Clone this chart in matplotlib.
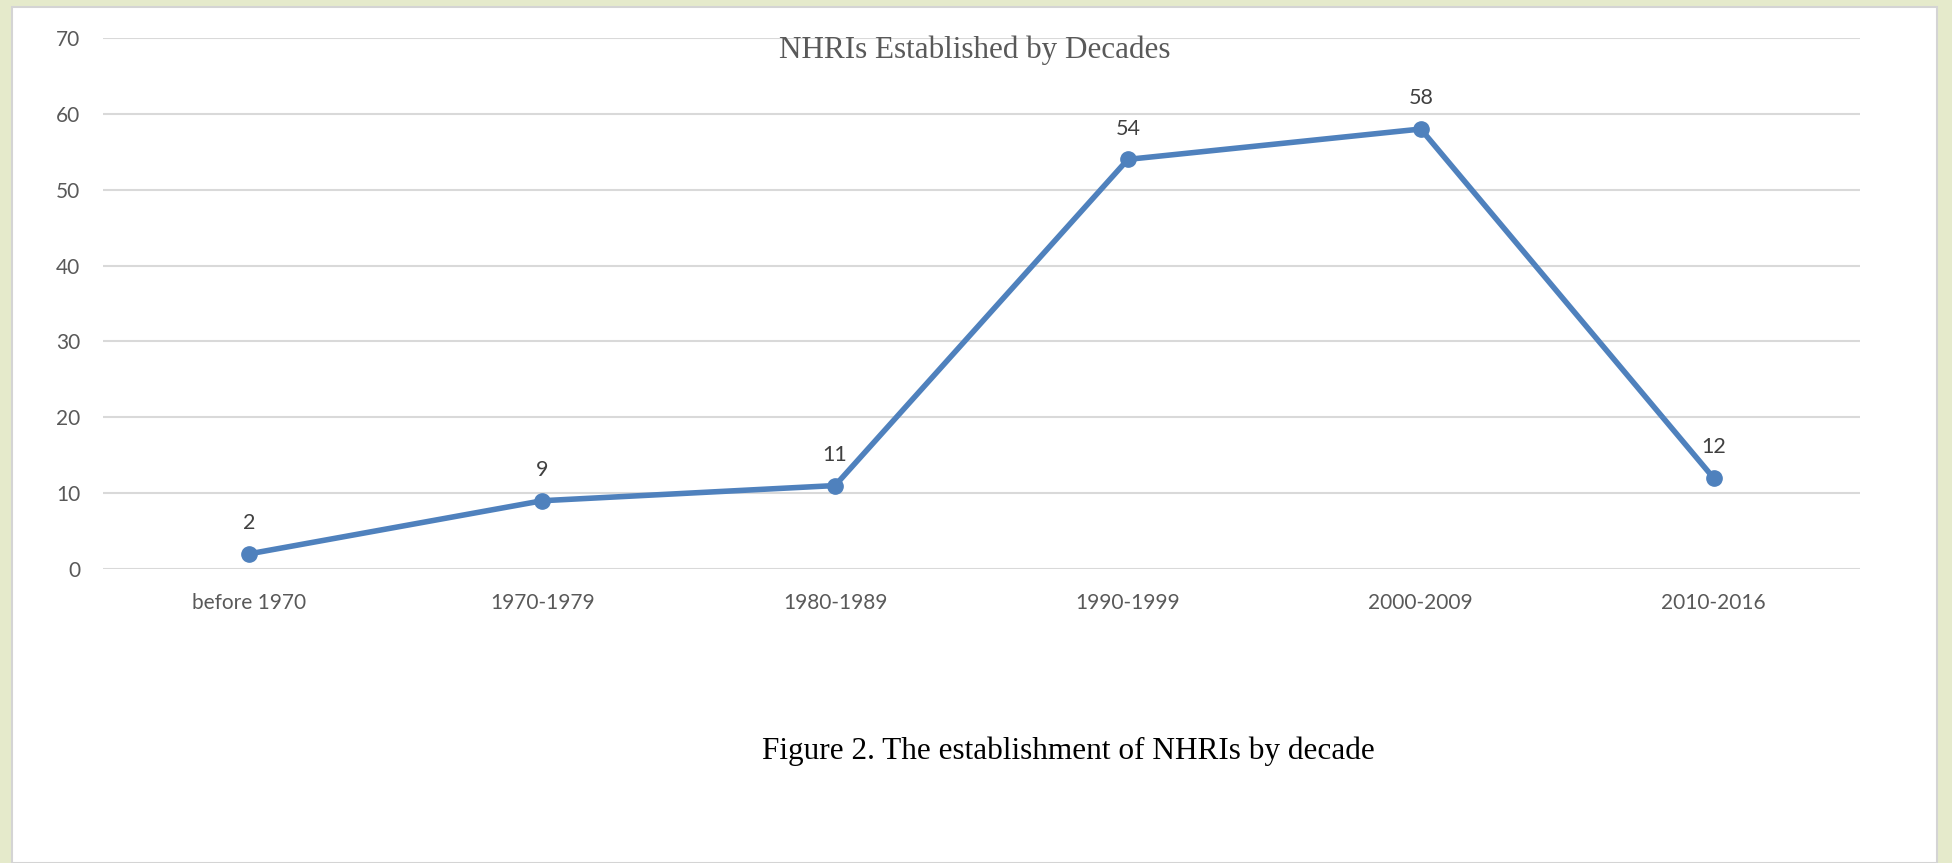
import matplotlib.pyplot as plt
from matplotlib.patches import Rectangle

decades = ["before 1970", "1970-1979", "1980-1989", "1990-1999", "2000-2009", "2010-2016"]
nhris = [2, 9, 11, 54, 58, 12]
y_ticks = [0, 10, 20, 30, 40, 50, 60, 70]

W, H = 1952, 863
fig = plt.figure(figsize=(W / 100, H / 100), dpi=100)
fig.patch.set_facecolor("#e5eacb")

# white page with a light grey edge, kept behind the axes
page = Rectangle((12 / W, 0), (1937 - 12) / W, (H - 7) / H, transform=fig.transFigure,
                 facecolor="white", edgecolor="#d4d4d4", linewidth=1.5, zorder=-1)
fig.patches.append(page)

ax = fig.add_axes([103 / W, (H - 569) / H, (1860 - 103) / W, (569 - 38) / H])
ax.set_facecolor("none")
x = list(range(len(decades)))
ax.plot(x, nhris, color="#4f81bd", linewidth=4, marker="o", markersize=11,
        solid_capstyle="round", clip_on=False, zorder=3)
for xi, v in zip(x, nhris):
    ax.annotate(str(v), (xi, v), xytext=(0, 15), textcoords="offset points",
                ha="center", va="bottom", fontsize=15.5, color="#404040", family="Lato")

ax.set_xlim(-0.5, len(decades) - 0.5)
ax.set_ylim(0, 70)
ax.set_yticks(y_ticks)
ax.set_xticks(x)
ax.set_xticklabels(decades)
ax.grid(axis="y", color="#d9d9d9", linewidth=1.5)
ax.set_axisbelow(True)
for s in ax.spines.values():
    s.set_visible(False)
ax.tick_params(axis="y", length=0, labelsize=15, labelcolor="#595959", pad=16.5)
ax.tick_params(axis="x", length=0, labelsize=15, labelcolor="#595959", pad=17.5)
for lab in ax.get_xticklabels() + ax.get_yticklabels():
    lab.set_family("Lato")

fig.text(975 / W, 1 - 50 / H, "NHRIs Established by Decades", ha="center", va="center",
         fontsize=22.4, color="#595959", family="Liberation Serif")
fig.text(1068 / W, 1 - 751 / H, "Figure 2. The establishment of NHRIs by decade",
         ha="center", va="center", fontsize=22.5, color="black", family="Liberation Serif")

fig.savefig("out.png", dpi=100, facecolor=fig.get_facecolor())
